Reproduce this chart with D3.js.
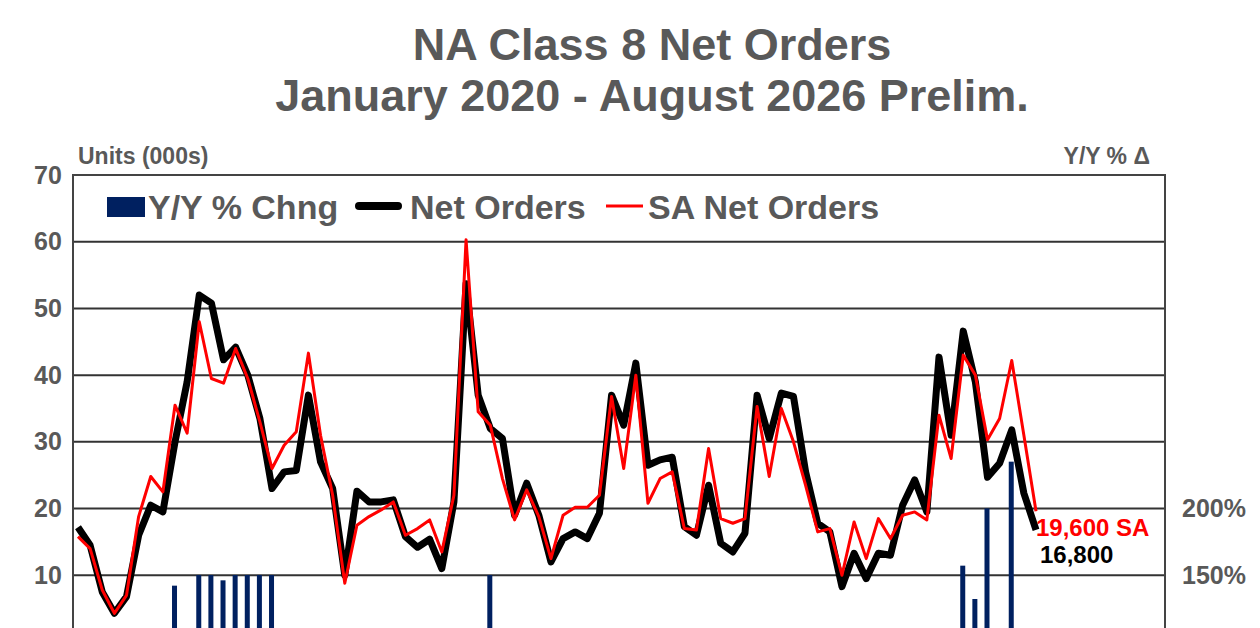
<!DOCTYPE html>
<html><head><meta charset="utf-8">
<script src="https://cdn.jsdelivr.net/npm/d3@7"></script>
<style>body{margin:0;background:#fff;overflow:hidden}text{font-family:Arial,"Liberation Sans",sans-serif;font-weight:bold}</style>
</head><body><svg id="c" width="1260" height="628"></svg>
<script>
const netOrders=[17.2,14.5,7.5,4.3,6.8,16,20.5,19.5,30,39,52,50.8,42.3,44.2,40,33.5,23,25.5,25.7,37,27,23,10,22.6,21,21,21.3,15.8,14.2,15.4,11,21,53.7,37,32,30.5,19,23.8,19,12,15.5,16.5,15.5,19.3,37,32.5,41.8,26.5,27.3,27.7,17.3,16,23.5,14.8,13.5,16.3,37,30.5,37.3,36.8,25.5,17.8,16.5,8.3,13.3,9.5,13.3,13,20.5,24.3,19.5,42.7,31,46.6,39,24.7,26.8,31.8,22.3,16.8];
const saNetOrders=[15.8,14,7.8,4.3,7,18.8,24.8,22.5,35.5,31.3,48,39.5,38.8,44,39.5,33,26,29.5,31.5,43.3,31,22,8.8,17.5,18.8,19.8,21,16,17,18.3,13.5,22,60.3,34.5,32.5,24.5,18.3,22.8,18.8,12.5,19,20.2,20.2,22,36.8,26,40,20.8,24.5,25.5,17,16.8,29,18.5,17.8,18.5,35.3,24.8,35,30,23.5,16.5,17,10,18,12.5,18.5,15.5,19,19.5,18.3,34,27.5,43,40,30.3,33.5,42.2,31,19.6];
const yoyIdx=[8,10,11,12,13,14,15,16,34,73,74,75,77];
const yoyVal=[142,150,150,146,150,150,150,150,150,157,132,200,235];
const leftTicks=[10,20,30,40,50,60,70];
const rightTicks=[150,200];
const svg=d3.select("#c");
const grey="#595959";
const L=73,R=1165,T=175,B=642;
const x=d3.scaleLinear().domain([0,79]).range([78,1036]);
const y=d3.scaleLinear().domain([0,70]).range([B,T]);
const yR=d3.scaleLinear().domain([0,450]).range([775,T]);
svg.append("text").attr("x",652).attr("y",60).attr("text-anchor","middle").attr("font-size",45).attr("fill",grey).text("NA Class 8 Net Orders");
svg.append("text").attr("x",652).attr("y",111).attr("text-anchor","middle").attr("font-size",45).attr("fill",grey).text("January 2020 - August 2026 Prelim.");
svg.append("text").attr("x",78).attr("y",164).attr("font-size",23).attr("fill",grey).text("Units (000s)");
svg.append("text").attr("x",1150).attr("y",164).attr("text-anchor","end").attr("font-size",23).attr("fill",grey).text("Y/Y % Δ");
svg.append("g").selectAll("line").data(leftTicks.slice(0,-1)).join("line").attr("x1",L).attr("x2",R).attr("y1",d=>y(d)).attr("y2",d=>y(d)).attr("stroke","#333").attr("stroke-width",2);
const la=svg.append("g").attr("transform",`translate(${L},0)`).call(d3.axisLeft(y).tickValues(leftTicks).tickSize(0).tickPadding(25));
la.select(".domain").remove();
la.selectAll("text").attr("font-size",25).attr("fill",grey).attr("text-anchor","middle").attr("font-family","Arial,'Liberation Sans',sans-serif");
const ra=svg.append("g").attr("transform",`translate(${R},0)`).call(d3.axisRight(yR).tickValues(rightTicks).tickFormat(d=>d+"%").tickSize(0).tickPadding(17));
ra.select(".domain").remove();
ra.selectAll("text").attr("font-size",25).attr("fill",grey).attr("font-family","Arial,'Liberation Sans',sans-serif");
svg.append("g").selectAll("rect").data(yoyIdx).join("rect").attr("x",(d)=>x(d)-3).attr("width",5).attr("y",(d,i)=>yR(yoyVal[i])).attr("height",(d,i)=>yR(0)-yR(yoyVal[i])).attr("fill","#002060");
const line=d3.line().x((d,i)=>x(i)).y(d=>y(d));
svg.append("path").datum(netOrders).attr("d",line).attr("fill","none").attr("stroke","#000").attr("stroke-width",7).attr("stroke-linejoin","round");
svg.append("path").datum(saNetOrders).attr("d",line).attr("fill","none").attr("stroke","#ff0000").attr("stroke-width",3).attr("stroke-linejoin","round");
svg.append("rect").attr("x",L).attr("y",T).attr("width",R-L).attr("height",B-T).attr("fill","none").attr("stroke","#444").attr("stroke-width",2);
svg.append("rect").attr("x",107).attr("y",197).attr("width",38).attr("height",20).attr("fill","#002060");
svg.append("text").attr("x",148).attr("y",219).attr("font-size",34).attr("fill",grey).text("Y/Y % Chng");
svg.append("line").attr("x1",359).attr("x2",398).attr("y1",206).attr("y2",206).attr("stroke","#000").attr("stroke-width",8).attr("stroke-linecap","round");
svg.append("text").attr("x",410).attr("y",219).attr("font-size",34).attr("fill",grey).text("Net Orders");
svg.append("line").attr("x1",606).attr("x2",643).attr("y1",206).attr("y2",206).attr("stroke","#ff0000").attr("stroke-width",3);
svg.append("text").attr("x",648).attr("y",219).attr("font-size",34).attr("fill",grey).text("SA Net Orders");
svg.append("text").attr("x",x(79)).attr("y",536).attr("font-size",24).attr("fill","#ff0000").text("19,600 SA");
svg.append("text").attr("x",x(79)+4).attr("y",563).attr("font-size",24).attr("fill","#000").text("16,800");
</script></body></html>
